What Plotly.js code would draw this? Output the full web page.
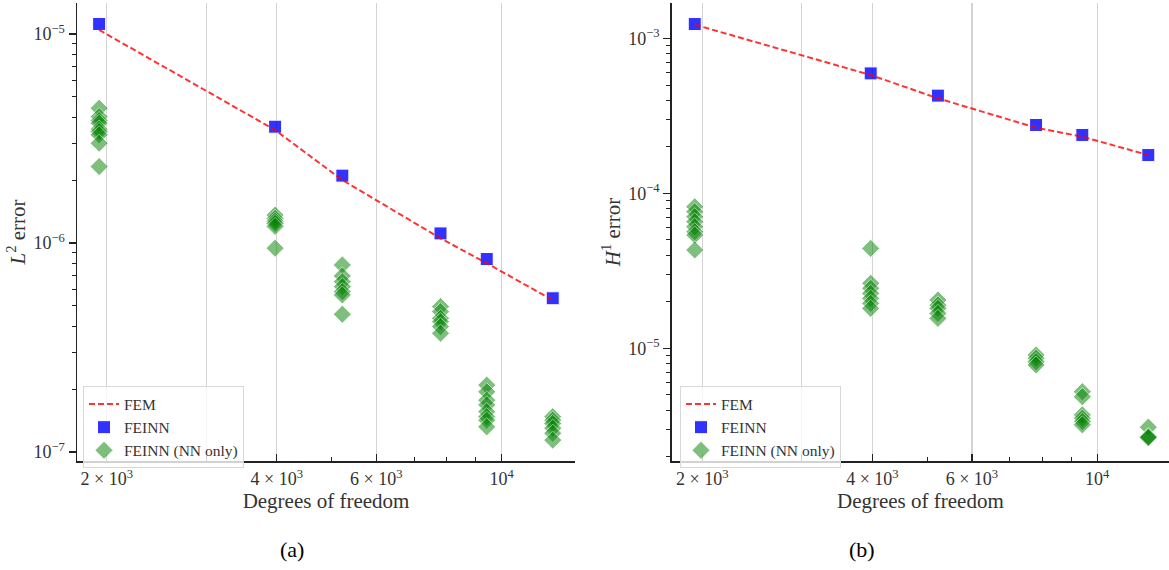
<!DOCTYPE html>
<html>
<head>
<meta charset="utf-8">
<script src="https://cdn.plot.ly/plotly-3.0.1.min.js"></script>
<style>html,body{margin:0;padding:0;background:#fff;}#chart{width:1169px;height:570px;}</style>
</head>
<body>
<div id="chart"></div>
<script>
// ---- data ----
const dofs = [1939, 3972, 5224, 7794, 9410, 12314];

// (a) L2 error
const l2FEM   = [1.045e-5, 3.47e-6, 2.00e-6, 1.053e-6, 8.0e-7, 5.33e-7];
const l2FEINN = [1.116e-5, 3.60e-6, 2.10e-6, 1.111e-6, 8.38e-7, 5.44e-7];
const l2NN = [
  [4.41e-6, 4.02e-6, 3.85e-6, 3.74e-6, 3.50e-6, 3.41e-6, 3.29e-6, 3.00e-6, 2.32e-6],
  [1.36e-6, 1.31e-6, 1.27e-6, 1.24e-6, 1.20e-6, 9.44e-7],
  [7.85e-7, 6.95e-7, 6.53e-7, 6.18e-7, 5.85e-7, 5.64e-7, 4.56e-7],
  [4.96e-7, 4.69e-7, 4.36e-7, 4.20e-7, 3.98e-7, 3.70e-7],
  [2.09e-7, 1.94e-7, 1.77e-7, 1.68e-7, 1.56e-7, 1.476e-7, 1.42e-7, 1.32e-7],
  [1.476e-7, 1.42e-7, 1.37e-7, 1.30e-7, 1.23e-7, 1.14e-7]
];

// (b) H1 error
const h1FEM   = [1.225e-3, 5.80e-4, 4.10e-4, 2.65e-4, 2.32e-4, 1.766e-4];
const h1FEINN = [1.237e-3, 5.94e-4, 4.27e-4, 2.76e-4, 2.38e-4, 1.766e-4];
const h1NN = [
  [8.19e-5, 7.61e-5, 7.06e-5, 6.56e-5, 6.09e-5, 5.65e-5, 5.38e-5, 4.31e-5],
  [4.41e-5, 2.63e-5, 2.44e-5, 2.26e-5, 2.10e-5, 1.95e-5, 1.81e-5],
  [2.05e-5, 1.90e-5, 1.81e-5, 1.68e-5, 1.56e-5],
  [9.07e-6, 8.63e-6, 8.20e-6, 7.80e-6],
  [5.25e-6, 4.87e-6, 3.72e-6, 3.54e-6, 3.37e-6, 3.21e-6],
  [3.10e-6, 2.70e-6, 2.68e-6, 2.65e-6]
];

const xTickVals = [2000, 3000, 4000, 6000, 10000];
const xTickText = ['2 × 10<sup>3</sup>', '', '4 × 10<sup>3</sup>', '6 × 10<sup>3</sup>', '10<sup>4</sup>'];
const xMinorVals = [5000, 7000, 8000, 9000];
const l2TickVals = [1e-7, 1e-6, 1e-5];
const l2TickText = ['10<sup>−7</sup>', '10<sup>−6</sup>', '10<sup>−5</sup>'];
const h1TickVals = [1e-5, 1e-4, 1e-3];
const h1TickText = ['10<sup>−5</sup>', '10<sup>−4</sup>', '10<sup>−3</sup>'];
const labelFEM = 'FEM', labelFEINN = 'FEINN', labelNN = 'FEINN (NN only)';

// ---- helpers ----
function flat(groups) {
  const xs = [], ys = [];
  groups.forEach((g, i) => g.forEach(v => { xs.push(dofs[i]); ys.push(v); }));
  return {x: xs, y: ys};
}
function minorLog(lo, hi) {
  const out = [];
  for (let e = lo; e <= hi; e++) for (let m = 2; m <= 9; m++) out.push(m * Math.pow(10, e));
  return out;
}

const FONT = 'Liberation Serif, Times New Roman, DejaVu Serif, serif';
const TXT = '#333';

function traces(fem, feinn, nn, xa, ya, leg) {
  const f = flat(nn);
  return [
    {x: f.x, y: f.y, xaxis: xa, yaxis: ya, legend: leg, type: 'scatter', mode: 'markers', name: labelNN, legendrank: 3,
     marker: {symbol: 'diamond', size: 14, color: '#008000', opacity: 0.5, line: {color: '#ffffff', width: 1}}},
    {x: dofs, y: feinn, xaxis: xa, yaxis: ya, legend: leg, type: 'scatter', mode: 'markers', name: labelFEINN, legendrank: 2,
     marker: {symbol: 'square', size: 13, color: '#0000ff', opacity: 0.8, line: {color: '#ffffff', width: 1}}},
    {x: dofs, y: fem, xaxis: xa, yaxis: ya, legend: leg, type: 'scatter', mode: 'lines', name: labelFEM, legendrank: 1,
     line: {color: 'rgba(255,0,0,0.8)', width: 2, dash: '6px,3px'}}
  ];
}

const data = [].concat(
  traces(l2FEM, l2FEINN, l2NN, 'x', 'y', 'legend'),
  traces(h1FEM, h1FEINN, h1NN, 'x2', 'y2', 'legend2')
);

function xaxis(domain, range, anchor) {
  return {
    type: 'log', domain: domain, range: range, anchor: anchor,
    tickmode: 'array', tickvals: xTickVals, ticktext: xTickText,
    ticks: 'inside', ticklen: 7, tickwidth: 1.3, tickcolor: '#222', ticklabelstandoff: 1,
    showgrid: true, gridcolor: '#d3d3d3', gridwidth: 1.3,
    minor: {tickmode: 'array', tickvals: xMinorVals, ticks: 'inside', ticklen: 4, tickwidth: 1, tickcolor: '#222', showgrid: false},
    showline: true, linecolor: '#222', linewidth: 1.5, mirror: false, zeroline: false,
    tickfont: {family: FONT, size: 18, color: TXT},
    title: {text: 'Degrees of freedom', font: {family: FONT, size: 21, color: TXT}, standoff: 0},
    automargin: false
  };
}
function yaxis(domain, range, anchor, tv, tt, minor, title) {
  return {
    type: 'log', domain: domain, range: range, anchor: anchor,
    tickmode: 'array', tickvals: tv, ticktext: tt,
    ticks: 'outside', ticklen: 7, tickwidth: 1.3, tickcolor: '#222',
    minor: {tickmode: 'array', tickvals: minor, ticks: 'outside', ticklen: 4, tickwidth: 1, tickcolor: '#222', showgrid: false},
    showgrid: false, showline: true, linecolor: '#222', linewidth: 1.5, mirror: false, zeroline: false,
    tickfont: {family: FONT, size: 18, color: TXT},
    title: {text: title, font: {family: FONT, size: 21, color: TXT}, standoff: 2},
    automargin: false
  };
}

const legendStyle = (x) => ({
  x: x, y: 0.322, xanchor: 'left', yanchor: 'top',
  bgcolor: 'rgba(255,255,255,0.8)', bordercolor: '#d8d8d8', borderwidth: 1,
  font: {family: FONT, size: 15.5, color: TXT}, tracegroupgap: 0
});

const layout = {
  width: 1169, height: 570, autosize: false,
  margin: {l: 0, r: 0, t: 0, b: 0},
  paper_bgcolor: '#fff', plot_bgcolor: '#fff',
  showlegend: true,
  xaxis: xaxis([77/1169, 575/1169], [3.2484, 4.1298], 'y'),
  yaxis: yaxis([109/570, 567/570], [-7.043, -4.852], 'x', l2TickVals, l2TickText, minorLog(-7, -5), '<i>L</i><sup>2</sup> error'),
  xaxis2: xaxis([671.7/1169, 1], [3.2468, 4.1270], 'y2'),
  yaxis2: yaxis([109/570, 567/570], [-5.727, -2.772], 'x2', h1TickVals, h1TickText, minorLog(-6, -3), '<i>H</i><sup>1</sup> error'),
  legend: legendStyle(83/1169),
  legend2: legendStyle(680/1169),
  annotations: [
    {text: '(a)', xref: 'paper', yref: 'paper', x: 292/1169, y: (570-549)/570, xanchor: 'center', yanchor: 'middle', showarrow: false,
     font: {family: FONT, size: 22, color: '#000'}},
    {text: '(b)', xref: 'paper', yref: 'paper', x: 862/1169, y: (570-549)/570, xanchor: 'center', yanchor: 'middle', showarrow: false,
     font: {family: FONT, size: 22, color: '#000'}}
  ]
};

Plotly.newPlot('chart', data, layout, {displayModeBar: false, staticPlot: true});
</script>
</body>
</html>
